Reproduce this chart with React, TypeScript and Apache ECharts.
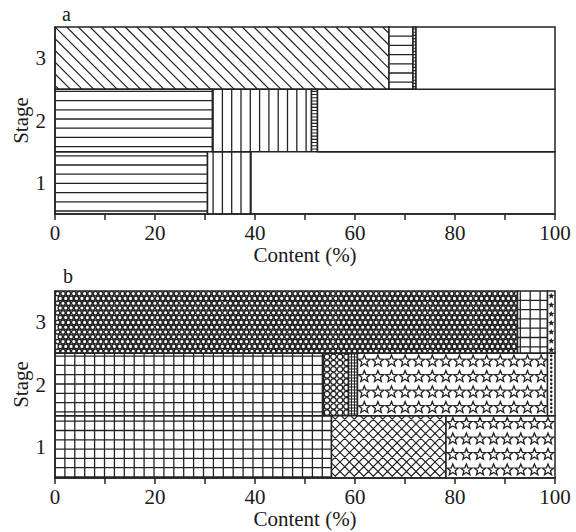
import React, { useEffect, useRef } from 'react';
import * as echarts from 'echarts';

// ---------- data ----------
const STAGES = ['1', '2', '3'];
const X_TICKS = [0, 20, 40, 60, 80, 100];

// Panel a: content (%) of each component, per stage 1,2,3 (stacked left to right)
const A_DIAGONAL = [0, 0, 66.8];
const A_HORIZONTAL = [30.5, 31.5, 4.8];
const A_VERTICAL = [8.7, 19.8, 0];
const A_LADDER = [0, 1.2, 0.6];

// Panel b
const B_CIRCLES = [0, 0, 92.5];
const B_GRID = [55.3, 53.7, 6.0];
const B_OVALS = [0, 5.0, 0];
const B_DENSE = [0, 1.8, 0];
const B_CROSS = [22.9, 0, 0];
const B_STARS = [21.8, 38.0, 1.5];
const B_DOTS = [0, 1.5, 0];

// ---------- style ----------
const INK = '#232323';
const TEXT = '#1a1a1a';
const FONT = "'Liberation Serif', 'Times New Roman', serif";

const f = (n: number) => n.toFixed(2);

type R = { x: number; y: number; w: number; h: number };

function hLines(r: R, oy: number, step: number) {
  let d = '';
  const k0 = Math.ceil((r.y - oy) / step);
  for (let y = oy + k0 * step; y < r.y + r.h - 0.5; y += step) {
    if (y - r.y < 0.5) continue;
    d += `M${f(r.x)} ${f(y)}L${f(r.x + r.w)} ${f(y)}`;
  }
  return d;
}
function vLines(r: R, ox: number, step: number) {
  let d = '';
  const k0 = Math.ceil((r.x - ox) / step);
  for (let x = ox + k0 * step; x < r.x + r.w - 0.5; x += step) {
    if (x - r.x < 0.5) continue;
    d += `M${f(x)} ${f(r.y)}L${f(x)} ${f(r.y + r.h)}`;
  }
  return d;
}
function diag(r: R, ox: number, oy: number, step: number, dir: number) {
  // dir = 1: "\" lines, dir = -1: "/" lines
  let d = '';
  const kMin = Math.floor((r.x - ox - r.h - Math.abs(r.y - oy) - r.h) / step) - 2;
  const kMax = Math.ceil((r.x + r.w - ox + r.h + Math.abs(r.y - oy) + r.h) / step) + 2;
  for (let k = kMin; k <= kMax; k++) {
    const c = ox + k * step;
    const x1 = c + dir * (r.y - oy);
    const x2 = c + dir * (r.y + r.h - oy);
    if (Math.max(x1, x2) < r.x || Math.min(x1, x2) > r.x + r.w) continue;
    d += `M${f(x1)} ${f(r.y)}L${f(x2)} ${f(r.y + r.h)}`;
  }
  return d;
}
function circle(cx: number, cy: number, rr: number) {
  return `M${f(cx + rr)} ${f(cy)}A${rr} ${rr} 0 1 0 ${f(cx - rr)} ${f(cy)}A${rr} ${rr} 0 1 0 ${f(cx + rr)} ${f(cy)}Z`;
}
function star(cx: number, cy: number, R1: number, R2: number) {
  let d = '';
  for (let i = 0; i < 10; i++) {
    const a = -Math.PI / 2 + (i * Math.PI) / 5;
    const rad = i % 2 ? R2 : R1;
    d += (i ? 'L' : 'M') + f(cx + rad * Math.cos(a)) + ' ' + f(cy + rad * Math.sin(a));
  }
  return d + 'Z';
}

function strokePath(d: string, lw = 1.2) {
  return { type: 'path', shape: { pathData: d }, style: { fill: 'none', stroke: INK, lineWidth: lw } };
}
function fillPath(d: string) {
  return { type: 'path', shape: { pathData: d }, style: { fill: INK, stroke: 'none' } };
}

function drawPattern(p: string, r: R, ox: number, oy: number): any[] {
  switch (p) {
    case 'horizontal':
      return [strokePath(hLines(r, oy, 9.2), 1.3)];
    case 'vertical':
      return [strokePath(vLines(r, ox, 9.3), 1.3)];
    case 'diagonal':
      return [strokePath(diag(r, ox, oy, 11.7, 1), 1.2)];
    case 'ladder': {
      let d = '';
      for (let y = r.y + 2; y < r.y + r.h; y += 3.2) d += `M${f(r.x)} ${f(y)}L${f(r.x + r.w)} ${f(y)}`;
      return [strokePath(d, 1.1)];
    }
    case 'grid':
      return [strokePath(hLines(r, oy, 9.3) + vLines(r, ox, 9.9), 1.3)];
    case 'cross':
      return [strokePath(diag(r, ox, oy, 9.5, 1) + diag(r, ox, oy, 9.5, -1), 1.2)];
    case 'circles': {
      let d = '';
      const dx = 5.4, dy = 4.8;
      let row = 0;
      for (let y = r.y + 2.6; y < r.y + r.h + 3; y += dy, row++) {
        const off = row % 2 ? dx / 2 : 0;
        for (let x = r.x + 2.6 + off; x < r.x + r.w + 3; x += dx) d += circle(x, y, 2.2);
      }
      return [strokePath(d, 1.3)];
    }
    case 'ovals': {
      let d = '';
      for (let y = r.y + 3.5; y < r.y + r.h + 3; y += 6.2)
        for (let x = r.x + 3.5; x < r.x + r.w + 3; x += 6.5) d += circle(x, y, 2.7);
      return [strokePath(d, 1.2)];
    }
    case 'dense':
      return [strokePath(hLines(r, oy, 3) + vLines(r, r.x, 3), 1.1)];
    case 'stars': {
      let d = '';
      if (r.w < 12) {
        const R1 = Math.max(2, (r.w - 1) / 2);
        for (let y = r.y + 5; y < r.y + r.h + 3; y += 9) d += star(r.x + r.w / 2, y, R1, R1 * 0.45);
        return [fillPath(d)];
      }
      const sx = 13.6, sy = 15.5;
      for (let y = r.y + sy / 2; y < r.y + r.h + 6; y += sy)
        for (let x = r.x + sx / 2; x < r.x + r.w + 6; x += sx) d += star(x, y, 6.0, 2.6);
      return [strokePath(d, 1.3)];
    }
    case 'dots': {
      let d = '';
      for (let y = r.y + 2.5; y < r.y + r.h; y += 4) d += circle(r.x + r.w / 2, y, 1.3);
      return [fillPath(d)];
    }
    default:
      return [];
  }
}

function makeRender(pattern: string) {
  return (params: any, api: any) => {
    const s = api.value(0);
    const e = api.value(1);
    const c = api.value(2);
    const p0 = api.coord([s, c]);
    const p1 = api.coord([e, c]);
    const bh = api.size([0, 1])[1];
    const r: R = { x: p0[0], y: p0[1] - bh / 2, w: p1[0] - p0[0], h: bh };
    const cs = params.coordSys;
    const shape = { x: r.x, y: r.y, width: r.w, height: r.h };
    const children: any[] = [{ type: 'rect', shape, style: { fill: '#fff', stroke: 'none' } }];
    const pat = drawPattern(pattern, r, cs.x, cs.y);
    if (pat.length) children.push({ type: 'group', clipPath: { type: 'rect', shape }, children: pat });
    children.push({ type: 'rect', shape, style: { fill: 'none', stroke: INK, lineWidth: 1.5 } });
    return { type: 'group', children };
  };
}

function buildSeries(gridIndex: number, comps: [string, number[]][]) {
  const cum = STAGES.map(() => 0);
  const out: any[] = [];
  const all: [string, number[]][] = [...comps];
  // remaining share up to 100 %
  const blank = STAGES.map((_, i) => 100 - comps.reduce((a, [, v]) => a + v[i], 0));
  all.push(['blank', blank]);
  all.forEach(([pattern, vals]) => {
    const data: number[][] = [];
    vals.forEach((v, i) => {
      if (v > 0.05) {
        data.push([cum[i], cum[i] + v, i]);
        cum[i] += v;
      }
    });
    out.push({
      type: 'custom',
      name: `${gridIndex}-${pattern}`,
      xAxisIndex: gridIndex,
      yAxisIndex: gridIndex,
      data,
      encode: { x: [0, 1], y: 2 },
      renderItem: makeRender(pattern),
      clip: false,
      silent: true,
    });
  });
  return out;
}

const seriesA = buildSeries(0, [
  ['diagonal', A_DIAGONAL],
  ['horizontal', A_HORIZONTAL],
  ['vertical', A_VERTICAL],
  ['ladder', A_LADDER],
]);
const seriesB = buildSeries(1, [
  ['circles', B_CIRCLES],
  ['grid', B_GRID],
  ['ovals', B_OVALS],
  ['dense', B_DENSE],
  ['cross', B_CROSS],
  ['stars', B_STARS],
  ['dots', B_DOTS],
]);

const axisLineStyle = { color: INK, width: 1.5 };
const labelStyle = { fontSize: 21, lineHeight: 21, color: TEXT, fontFamily: FONT };

const xAxes = [0, 1].map((i) => ({
  gridIndex: i,
  type: 'value',
  min: X_TICKS[0],
  max: X_TICKS[X_TICKS.length - 1],
  interval: X_TICKS[1] - X_TICKS[0],
  axisLine: { show: true, lineStyle: axisLineStyle },
  axisTick: { show: true, length: 6, lineStyle: axisLineStyle },
  minorTick: { show: true, splitNumber: 2, length: 6, lineStyle: axisLineStyle },
  splitLine: { show: false },
  minorSplitLine: { show: false },
  axisLabel: { ...labelStyle, margin: 8 },
  name: 'Content (%)',
  nameLocation: 'middle',
  nameGap: 30,
  nameMoveOverlap: false,
  nameTextStyle: { ...labelStyle },
  z: 5,
}));

const yAxes = [0, 1].map((i) => ({
  gridIndex: i,
  type: 'category',
  data: STAGES,
  axisLine: { show: true, lineStyle: axisLineStyle },
  axisTick: { show: false },
  splitLine: { show: false },
  axisLabel: { ...labelStyle, margin: 9 },
  name: 'Stage',
  nameLocation: 'middle',
  nameGap: 24,
  nameMoveOverlap: false,
  nameTextStyle: { ...labelStyle },
  z: 5,
}));

const option = {
  animation: false,
  backgroundColor: '#ffffff',
  textStyle: { fontFamily: FONT },
  grid: [
    { left: 55, top: 27, width: 500, height: 187, containLabel: false, outerBoundsMode: 'none' },
    { left: 55, top: 291, width: 500, height: 187, containLabel: false, outerBoundsMode: 'none' },
  ],
  xAxis: xAxes,
  yAxis: yAxes,
  graphic: [
    { type: 'text', left: 62, top: 4, style: { text: 'a', fontSize: 20, fontFamily: FONT, fill: TEXT } },
    { type: 'text', left: 63, top: 266, style: { text: 'b', fontSize: 20, fontFamily: FONT, fill: TEXT } },
  ],
  series: [...seriesA, ...seriesB],
};

export default function App() {
  const ref = useRef<HTMLDivElement>(null);
  useEffect(() => {
    if (!ref.current) return;
    const chart = echarts.init(ref.current, null, { renderer: 'svg' });
    chart.setOption(option as any);
    return () => chart.dispose();
  }, []);
  return <div ref={ref} style={{ position: 'absolute', left: 0, top: 0, width: 576, height: 532 }} />;
}
